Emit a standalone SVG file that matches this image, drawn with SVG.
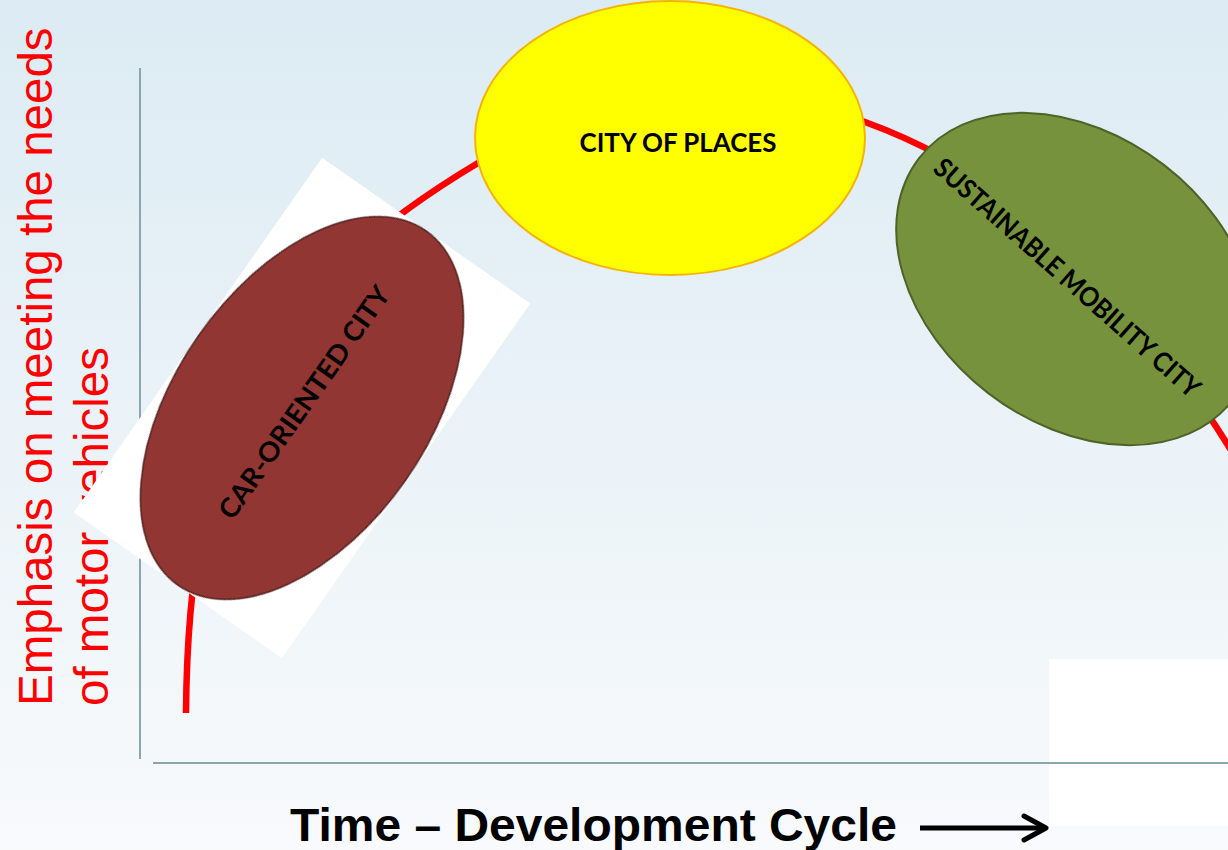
<svg xmlns="http://www.w3.org/2000/svg" width="1228" height="850" viewBox="0 0 1228 850">
  <defs>
    <linearGradient id="bg" x1="0" y1="0" x2="0" y2="1">
      <stop offset="0" stop-color="#dcebf3"/>
      <stop offset="1" stop-color="#f8fafc"/>
    </linearGradient>
    <filter id="soft" x="-5%" y="-5%" width="110%" height="110%">
      <feGaussianBlur stdDeviation="0.6"/>
    </filter>
  </defs>
  <style>
    .axis { stroke: #8aa6ae; stroke-width: 2; fill: none; }
    .curve { stroke: #ff0000; stroke-width: 6.5; fill: none; }
    .ylabel { font-family: "Liberation Sans", Arial, sans-serif; font-size: 47.5px; fill: #ff0000; }
    .xlabel { font-family: "Liberation Sans", Arial, sans-serif; font-size: 46px; font-weight: bold; fill: #000; }
    .node-label { font-family: "Lato", "Liberation Sans", sans-serif; font-weight: bold; font-size: 27px; fill: #000; text-anchor: middle; }
  </style>

  <!-- background -->
  <rect x="0" y="0" width="1228" height="850" fill="url(#bg)"/>
  <rect x="1049" y="659" width="179" height="167" fill="#ffffff"/>

  <!-- axes -->
  <g id="axes">
    <line class="axis" x1="140" y1="68" x2="140" y2="759"/>
    <line class="axis" x1="153" y1="763" x2="1228" y2="763"/>
  </g>

  <!-- vertical axis title -->
  <g id="y-label" transform="rotate(-90)">
    <text class="ylabel" x="-706" y="52">Emphasis on meeting the needs</text>
    <text class="ylabel" x="-706" y="108">of motor vehicles</text>
  </g>

  <!-- horizontal axis title with arrow -->
  <g id="x-label">
    <text class="xlabel" x="290" y="841" textLength="607" lengthAdjust="spacingAndGlyphs">Time – Development Cycle</text>
    <line x1="920" y1="828" x2="1044" y2="828" stroke="#000" stroke-width="5"/>
    <polyline points="1024,816 1046,828 1024,840" fill="none" stroke="#000" stroke-width="5" stroke-linecap="round" stroke-linejoin="round"/>
  </g>

  <!-- development cycle curve -->
  <g id="connectors">
    <path class="curve" d="M186,713 C188,430 265,290 478,163 C602,80 724,71 865,122 C1025,180 1136,302 1217,428 L1246,474"/>
  </g>

  <!-- car-oriented city -->
  <g id="car-oriented-city" transform="translate(302,408) rotate(-55)">
    <rect x="-216.5" y="-127" width="433" height="254" fill="#ffffff"/>
    <ellipse cx="0" cy="0" rx="216" ry="126" fill="#923634" stroke="#5e2a28" stroke-width="2" filter="url(#soft)"/>
    <ellipse cx="0" cy="0" rx="215" ry="125" fill="#923634"/>
    <text class="node-label" x="6" y="8" textLength="277" lengthAdjust="spacingAndGlyphs">CAR-ORIENTED CITY</text>
  </g>

  <!-- city of places -->
  <g id="city-of-places">
    <ellipse cx="670" cy="138" rx="195" ry="137" fill="#ffff00" stroke="#f5b400" stroke-width="2"/>
    <text class="node-label" x="678" y="152" textLength="197" lengthAdjust="spacingAndGlyphs">CITY OF PLACES</text>
  </g>

  <!-- sustainable mobility city -->
  <g id="sustainable-mobility-city">
    <ellipse cx="0" cy="0" rx="198" ry="144" transform="translate(1076,279) rotate(37.6)" fill="#76923c" stroke="#4f6228" stroke-width="2"/>
    <text class="node-label" x="0" y="9" transform="translate(1067,278) rotate(41.5)" textLength="345" lengthAdjust="spacingAndGlyphs">SUSTAINABLE MOBILITY CITY</text>
  </g>
</svg>
